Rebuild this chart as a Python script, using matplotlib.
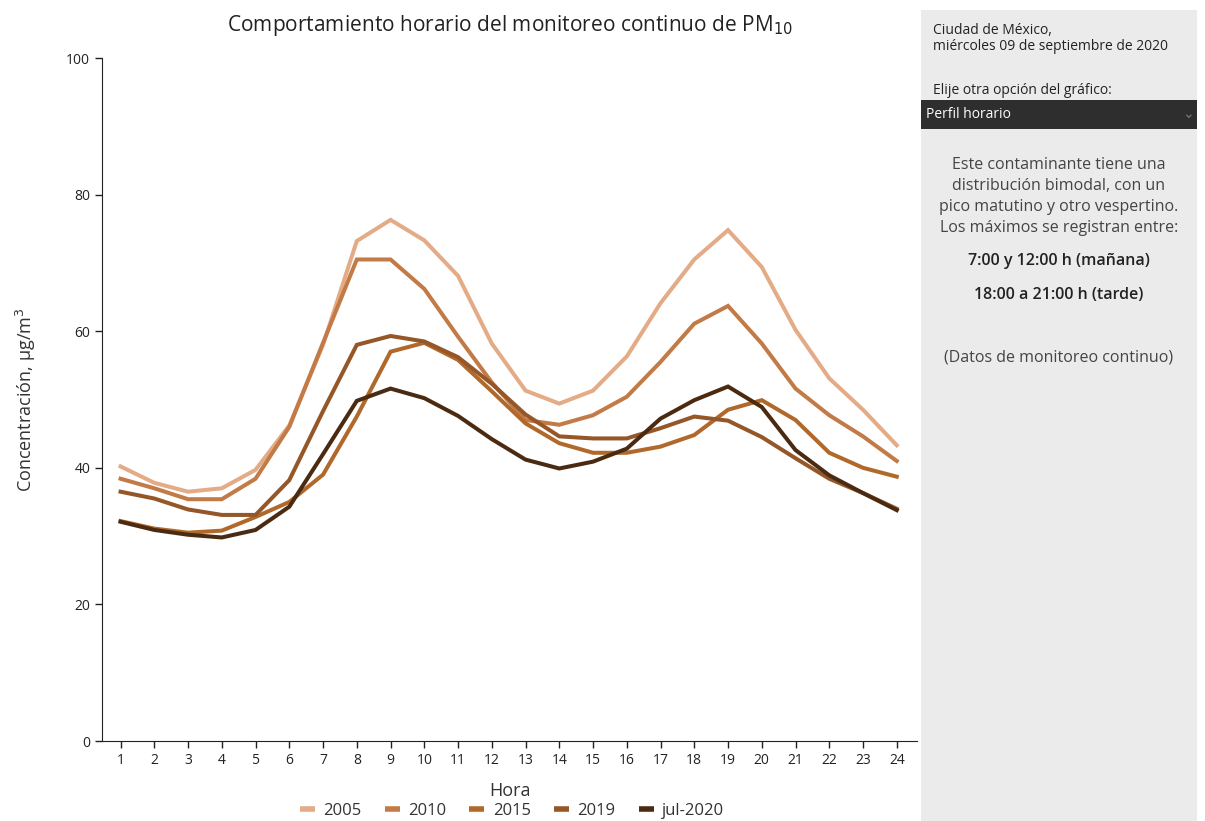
import matplotlib
matplotlib.use("Agg")
import matplotlib.pyplot as plt
from matplotlib.patches import Rectangle

plt.rcParams['font.family'] = ['Open Sans', 'DejaVu Sans']

hours = list(range(1, 25))
hour_labels = [str(h) for h in hours]

pm_2005 = [40.2, 37.8, 36.5, 37.0, 39.7, 46.2, 58.0, 73.2, 76.3, 73.3, 68.1, 58.2,
           51.3, 49.4, 51.3, 56.3, 64.1, 70.5, 74.8, 69.4, 60.2, 53.1, 48.5, 43.3]
pm_2010 = [38.4, 37.0, 35.4, 35.4, 38.4, 46.0, 58.3, 70.5, 70.5, 66.2, 59.2, 52.5,
           47.0, 46.3, 47.7, 50.4, 55.5, 61.1, 63.7, 58.2, 51.6, 47.7, 44.6, 41.0]
pm_2015 = [32.2, 31.1, 30.5, 30.8, 32.8, 35.0, 39.0, 47.5, 57.0, 58.3, 55.8, 51.2,
           46.5, 43.6, 42.2, 42.2, 43.1, 44.8, 48.5, 49.9, 47.0, 42.2, 40.0, 38.7]
pm_2019 = [36.5, 35.5, 33.9, 33.1, 33.1, 38.2, 48.3, 58.0, 59.3, 58.5, 56.2, 52.3,
           47.8, 44.6, 44.3, 44.3, 45.8, 47.5, 46.9, 44.5, 41.4, 38.4, 36.3, 34.0]
pm_jul2020 = [32.1, 30.9, 30.2, 29.8, 30.9, 34.3, 42.0, 49.8, 51.6, 50.2, 47.6, 44.2,
              41.2, 39.9, 40.9, 42.8, 47.2, 49.9, 51.9, 48.9, 42.6, 38.9, 36.3, 33.8]

series_names = ['2005', '2010', '2015', '2019', 'jul-2020']
series_values = [pm_2005, pm_2010, pm_2015, pm_2019, pm_jul2020]
colors = ['#e3ab86', '#c27b46', '#b0692b', '#955628', '#4b2a12']

W, H = 1205, 821
fig = plt.figure(figsize=(W / 100, H / 100), dpi=100)
fig.patch.set_facecolor('white')

# right info panel
panel = Rectangle((921 / W, 0), (1197 - 921) / W, (H - 10) / H, transform=fig.transFigure,
                  facecolor='#ebebeb', edgecolor='none', zorder=0)
fig.add_artist(panel)
bar = Rectangle((921 / W, 1 - 129 / H), (1197 - 921) / W, 29 / H, transform=fig.transFigure,
                facecolor='#2e2e2e', edgecolor='none', zorder=1)
fig.add_artist(bar)

def fx(px):
    return px / W

def fy(py):
    return 1 - py / H

fig.text(fx(933), fy(31), 'Ciudad de México,', fontsize=10, color='#222222', va='center')
fig.text(fx(933), fy(47), 'miércoles 09 de septiembre de 2020', fontsize=10, color='#222222', va='center')
fig.text(fx(933), fy(90), 'Elije otra opción del gráfico:', fontsize=10, color='#222222', va='center')
fig.text(fx(926), fy(114), 'Perfil horario', fontsize=10, color='white', va='center')
fig.text(fx(1188), fy(114), '⌄', fontsize=10, color='#777777', va='center', ha='center')

cx = fx(1059)
body = ['Este contaminante tiene una', 'distribución bimodal, con un',
        'pico matutino y otro vespertino.', 'Los máximos se registran entre:']
for i, line in enumerate(body):
    fig.text(cx, fy(165 + i * 21), line, fontsize=11.5, color='#444444', ha='center', va='center')
fig.text(cx, fy(261), '7:00 y 12:00 h (mañana)', fontsize=11.5, color='#222222', ha='center',
         va='center', fontweight='semibold')
fig.text(cx, fy(295), '18:00 a 21:00 h (tarde)', fontsize=11.5, color='#222222', ha='center',
         va='center', fontweight='semibold')
fig.text(cx, fy(358), '(Datos de monitoreo continuo)', fontsize=11.5, color='#444444',
         ha='center', va='center')

# main axes
ax = fig.add_axes([102 / W, 1 - 741 / H, (917 - 102) / W, (741 - 58) / H])
for name, vals, col in zip(series_names, series_values, colors):
    ax.plot(hours, vals, color=col, linewidth=2.9, label=name, solid_joinstyle='miter')

ax.set_xlim(0.45, 24.6)
ax.set_ylim(0, 100)
ax.set_xticks(hours)
ax.set_xticklabels(hour_labels)
ax.set_yticks([0, 20, 40, 60, 80, 100])
ax.tick_params(axis='both', labelsize=10, colors='#222222', length=5, width=1)
ax.spines['top'].set_visible(False)
ax.spines['right'].set_visible(False)
ax.spines['left'].set_color('#222222')
ax.spines['bottom'].set_color('#222222')
ax.set_xlabel('Hora', fontsize=13, color='#333333', labelpad=10)
ax.set_ylabel('Concentración, µg/m$^3$', fontsize=13, color='#333333', labelpad=20)

fig.text(fx(510), fy(25), 'Comportamiento horario del monitoreo continuo de PM$_{10}$',
         fontsize=15, color='#222222', ha='center', va='center')

leg = fig.legend(loc='center', bbox_to_anchor=(fx(512), fy(811)), ncol=5, frameon=False,
                 fontsize=12, handlelength=0.9, columnspacing=1.4, handletextpad=0.5)
for t in leg.get_texts():
    t.set_color('#333333')
for l in leg.get_lines():
    l.set_linewidth(4)
    l.set_solid_capstyle('butt')

fig.savefig('out.png', dpi=100)
